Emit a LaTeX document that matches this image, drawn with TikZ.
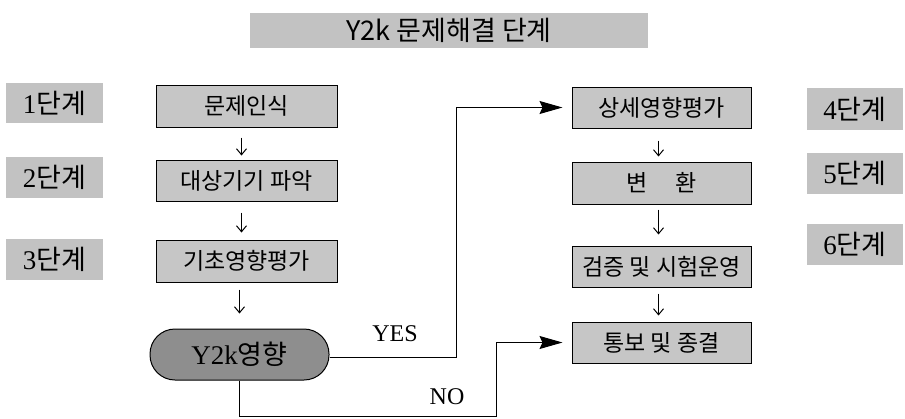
\documentclass[tikz,border=0pt]{standalone}
\usepackage{fontspec}
\setmainfont{Liberation Serif}
\newfontfamily\kr{Noto Sans CJK KR}
\usetikzlibrary{arrows.meta,calc}
\definecolor{boxgray}{HTML}{C6C6C6}
\definecolor{labgray}{HTML}{C2C2C2}
\definecolor{ellgray}{HTML}{8E8E8E}
\begin{document}
\begin{tikzpicture}[x=1pt,y=-1pt,
  stepbox/.style={draw=black,line width=1pt,fill=boxgray,inner sep=0pt,
    font=\kr\fontsize{23}{23}\selectfont},
  lbox/.style={stepbox,minimum width=181pt},
  rbox/.style={stepbox,minimum width=179pt},
  lab/.style={fill=labgray,inner sep=0pt,minimum width=97pt,
    font=\fontsize{27}{27}\selectfont},
  decision/.style={draw=black,line width=1pt,fill=ellgray,rounded corners=25pt,
    minimum width=179pt,minimum height=51pt,inner sep=0pt,
    font=\fontsize{27}{27}\selectfont},
  small/.style={line width=1pt,-{Straight Barb[length=6pt,width=10pt,line width=1pt]}},
  big/.style={line width=1pt,-{Stealth[length=23pt,width=13pt,inset=3pt]},shorten >=9pt},
  yn/.style={font=\fontsize{24}{24}\selectfont,inner sep=0pt}
]
\useasboundingbox (0,0) rectangle (905,418);
% title
\node[fill=labgray,minimum width=398pt,minimum height=35pt,inner sep=0pt,
  font=\kr\fontsize{27}{27}\selectfont] (title) at (449,30.5) {Y2k 문제해결 단계};
% left labels
\node[lab,minimum height=40pt] (l1) at (54.5,103) {1{\kr 단계}};
\node[lab,minimum height=41pt] (l2) at (54.5,177.5) {2{\kr 단계}};
\node[lab,minimum height=41pt] (l3) at (54.5,259.5) {3{\kr 단계}};
% right labels
\node[lab,minimum width=96pt,minimum height=42pt] (l4) at (855,109) {4{\kr 단계}};
\node[lab,minimum width=96pt,minimum height=41pt] (l5) at (855,173.5) {5{\kr 단계}};
\node[lab,minimum width=96pt,minimum height=41pt] (l6) at (855,244.5) {6{\kr 단계}};
% left flow
\node[lbox,minimum height=42pt] (b1) at (246.5,106) {문제인식};
\node[lbox,minimum height=41pt] (b2) at (246.5,180.5) {대상기기 파악};
\node[lbox,minimum height=42pt] (b3) at (246.5,261) {기초영향평가};
\node[decision] (e) at (239.5,354.5) {Y2k{\kr 영향}};
% right flow
\node[rbox,minimum height=41pt] (r1) at (661.5,107.5) {상세영향평가};
\node[rbox,minimum height=42pt] (r2) at (661.5,183) {변\hspace{1.2em}환};
\node[rbox,minimum height=41pt] (r3) at (661.5,266.5) {검증 및 시험운영};
\node[rbox,minimum height=41pt] (r4) at (661.5,342.5) {통보 및 종결};
% small arrows
\draw[small,shorten <=10pt,shorten >=4pt] ([xshift=-5pt]b1.south) -- ([xshift=-5pt]b2.north);
\draw[small,shorten <=11pt,shorten >=7pt] ([xshift=-5pt]b2.south) -- ([xshift=-5pt]b3.north);
\draw[small,shorten <=7pt,shorten >=15pt] (e.north |- b3.south) -- (e.north);
\draw[small,shorten <=12pt,shorten >=5pt] ([xshift=-3pt]r1.south) -- ([xshift=-3pt]r2.north);
\draw[small,shorten <=5pt,shorten >=11pt] ([xshift=-3pt]r2.south) -- ([xshift=-3pt]r3.north);
\draw[small,shorten <=6pt,shorten >=6pt] ([xshift=-3pt]r3.south) -- ([xshift=-3pt]r4.north);
% YES / NO
\coordinate (yx) at (456,0);
\coordinate (nc) at (496,416);
\draw[big] ([yshift=-3pt]e.east) -| (yx |- r1.west) -- (r1.west);
\draw[big] (e.south) |- (nc) |- (r4.west);
\node[yn] (yes) at (395,334) {YES};
\node[yn] (no) at (447,397) {NO};
\end{tikzpicture}
\end{document}
